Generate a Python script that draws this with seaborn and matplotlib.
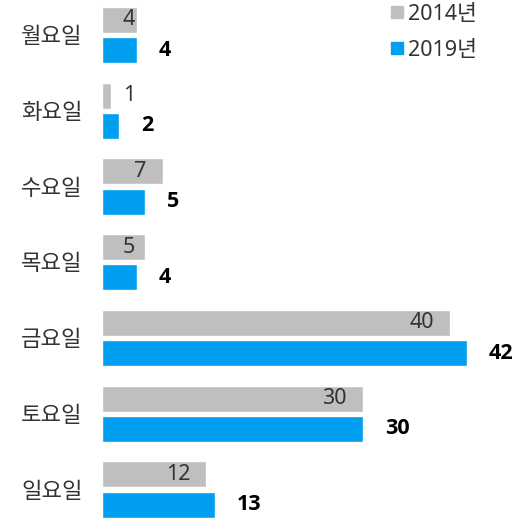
import numpy as np
import pandas as pd
import matplotlib
matplotlib.use("Agg")
import matplotlib.pyplot as plt
from matplotlib.lines import Line2D
import seaborn as sns

days = ["월요일", "화요일", "수요일", "목요일", "금요일", "토요일", "일요일"]
years = ["2014년", "2019년"]
values_2014 = [4, 1, 7, 5, 40, 30, 12]
values_2019 = [4, 2, 5, 4, 42, 30, 13]
colors = ["#BFBFBF", "#009FEF"]

df = pd.DataFrame({
    "day": days * 2,
    "year": [years[0]] * len(days) + [years[1]] * len(days),
    "value": values_2014 + values_2019,
})

sns.set_style("white")
fonts = ["Noto Sans", "Noto Sans CJK KR", "DejaVu Sans"]
plt.rcParams["font.family"] = fonts

W, H = 521, 519
fig = plt.figure(figsize=(W / 100, H / 100), dpi=100)
ax = fig.add_axes([102 / W, 0, 1 - 102 / W, 1])

sns.barplot(data=df, y="day", x="value", hue="year", order=days, hue_order=years,
            palette=colors, saturation=1, width=0.8, gap=0.14, orient="h",
            legend=False, ax=ax)

px = 8.69  # pixels per unit
ax.set_xlim(0, (W - 102) / px)
ax.set_ylim(6 + (H - 489.5) / 75.75, -35 / 75.75)

pad_in = 16 / px
min_right = 33 / px
pad_out = 22 / px
for i, (a, b) in enumerate(zip(values_2014, values_2019)):
    ax.text(max(a - pad_in, min_right), i - 0.2, str(a), ha="right", va="center",
            fontsize=15.5, color="#333333")
    ax.text(b + pad_out, i + 0.2, str(b), ha="left", va="center",
            fontsize=15.5, color="black", fontweight="bold",
            family=["Open Sans", "Roboto", "DejaVu Sans"])

ax.set_xlabel("")
ax.set_ylabel("")
ax.set_xticks([])
ax.tick_params(axis="y", length=0, pad=14, labelsize=16, labelcolor="#333333")
sns.despine(ax=ax, left=True, bottom=True)

handles = [Line2D([0], [0], marker="s", linestyle="", markersize=8,
                  markerfacecolor=c, markeredgecolor=c) for c in colors]
fig.legend(handles, years, loc="upper left", bbox_to_anchor=(391 / W, 1 - 4 / H),
           frameon=False, fontsize=15.5, handlelength=0.6, handletextpad=0.2,
           labelspacing=0.68, borderaxespad=0.0, borderpad=0.0,
           labelcolor="#333333")

fig.savefig("out.png", dpi=100)
